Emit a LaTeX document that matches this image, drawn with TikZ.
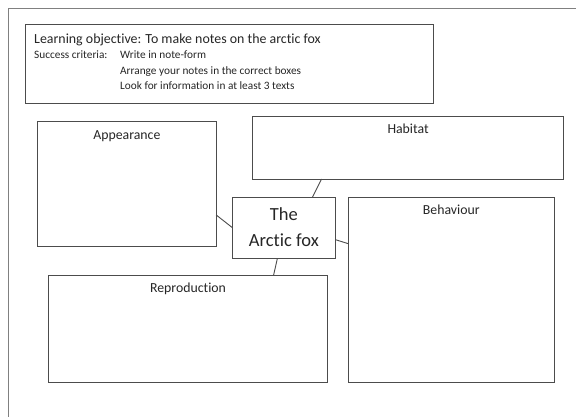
\documentclass[tikz,border=0pt]{standalone}
\usepackage{fontspec}
\setmainfont{Carlito}[Ligatures=NoCommon]
\usetikzlibrary{positioning, calc}
\tikzstyle{page} = [draw=black!50, line width=0.8pt]
\tikzstyle{topic} = [rectangle, anchor=north west, draw=black!70, line width=0.9pt, inner sep=0pt, outer sep=0pt]
\tikzstyle{heading} = [anchor=base, inner sep=0pt, font=\fontsize{13.8}{16}\selectfont, text=black!85]
\tikzstyle{goalline} = [anchor=base west, inner sep=0pt, font=\fontsize{11.3}{13}\selectfont, text=black!85]
\tikzstyle{link} = [draw=black!70, line width=0.9pt]

\begin{document}
\begin{tikzpicture}[x=1pt, y=-1pt]
\clip (0,0) rectangle (576,416);
\fill[white] (0,0) rectangle (576,416);
\draw[page] (8.5,8.5) rectangle (620,460);
\node(goal)[topic, minimum width=407.5pt, minimum height=79pt] at (25.5,24) {};
\node(goal1)[goalline, font=\fontsize{13.9}{16}\selectfont] at ($(goal.north west)+(8.5,19)$) {Learning objective: To make notes on the arctic fox};
\node(goal2)[goalline] at ($(goal.north west)+(8.5,34)$) {Success criteria:};
\node(goal3)[goalline] at ($(goal.north west)+(94.5,34)$) {Write in note-form};
\node(goal4)[goalline] at ($(goal.north west)+(94.5,50)$) {Arrange your notes in the correct boxes};
\node(goal5)[goalline] at ($(goal.north west)+(94.5,65.5)$) {Look for information in at least 3 texts};
\node(topic1)[topic, minimum width=178.7pt, minimum height=125pt] at (37.5,121.7) {};
\node(topic2)[topic, minimum width=311pt, minimum height=63pt] at (252.6,116) {};
\node(topic3)[topic, minimum width=205.5pt, minimum height=185pt] at (348.5,197) {};
\node(topic4)[topic, minimum width=279pt, minimum height=107pt] at (48.5,275) {};
\node(fox)[topic, minimum width=102.8pt, minimum height=61.5pt] at (232.5,197) {};
\node(fox text)[align=center, inner sep=0pt, font=\fontsize{18.5}{26}\selectfont, text=black!85] at ($(fox.center)+(0,-1)$) {The\\Arctic fox};
\node(head1)[heading] at ($(topic1.north)+(0,17.5)$) {Appearance};
\node(head2)[heading] at ($(topic2.north)+(0,17.5)$) {Habitat};
\node(head3)[heading] at ($(topic3.north)+(0,17.5)$) {Behaviour};
\node(head4)[heading] at ($(topic4.north)+(0,17.5)$) {Reproduction};
\draw [link] (topic1.-19.6) -- (fox.west);
\draw [link] (topic2.-160.6) -- (fox.47.3);
\draw [link] (fox.-13.4) -- (topic3.156.6);
\draw [link] (fox.-102.6) -- (topic4.32.7);
\end{tikzpicture}
\end{document}
